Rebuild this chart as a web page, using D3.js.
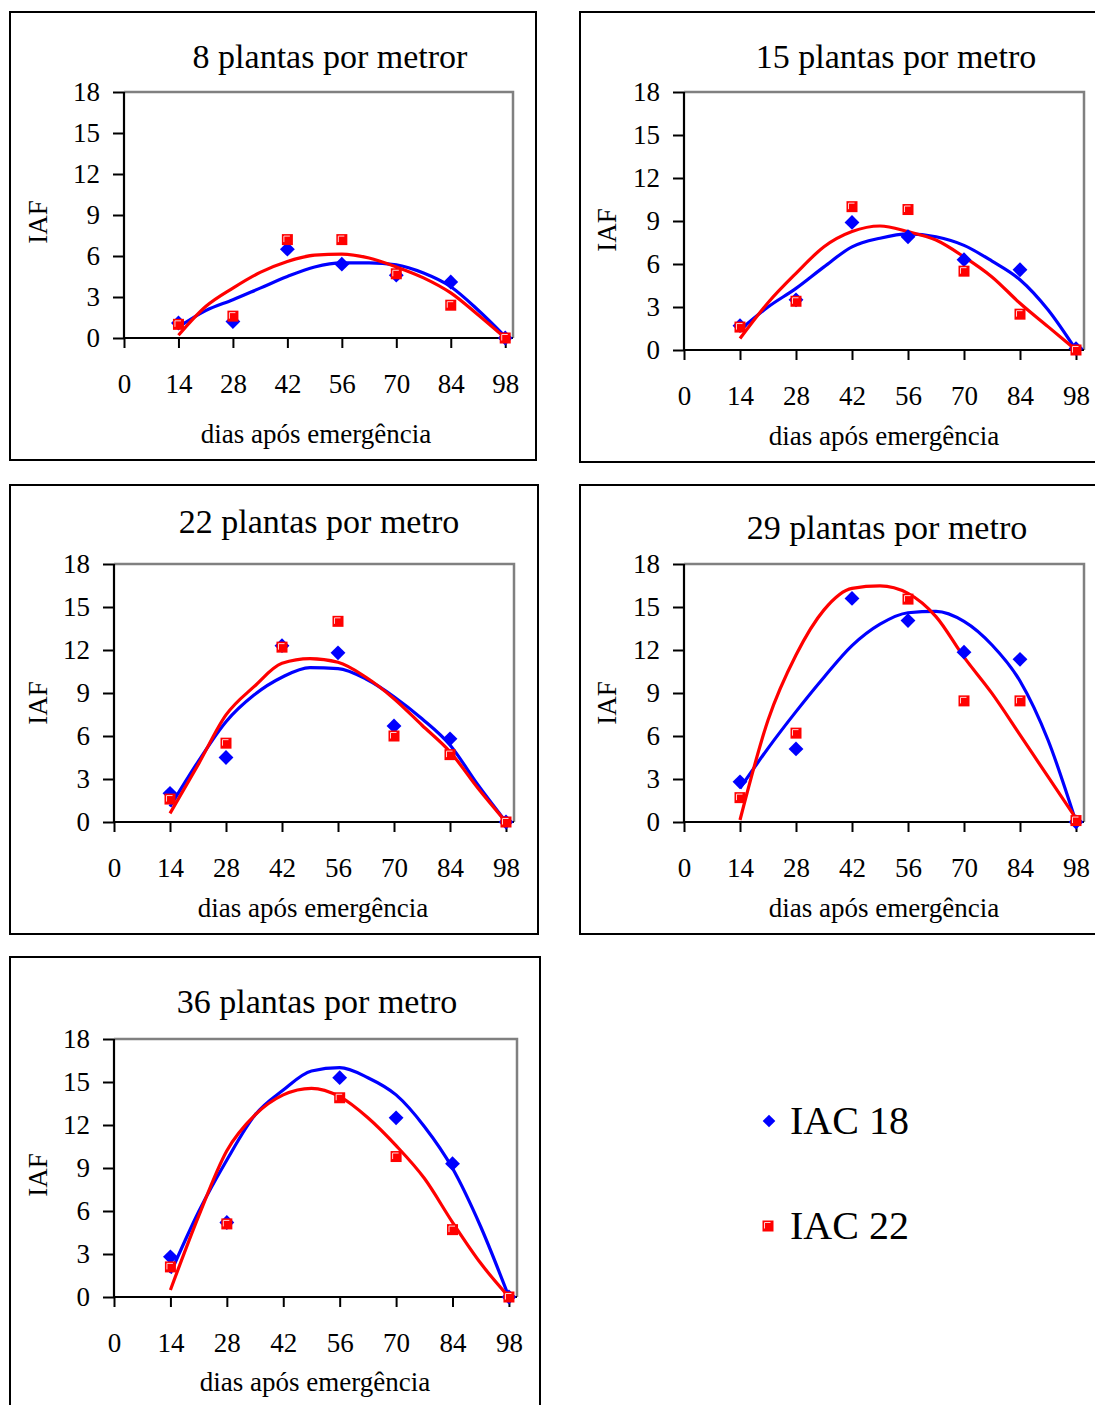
<!DOCTYPE html>
<html>
<head>
<meta charset="utf-8">
<script src="https://cdn.jsdelivr.net/npm/d3@7"></script>
<style>
  body { margin: 0; background: #fff; }
  svg { display: block; }
  text { font-family: "Liberation Serif", "Times New Roman", serif; fill: #000; }
</style>
</head>
<body>
<div id="chart"></div>
<script>
// days of sampling and the days at which the fitted curves were read
var days = [14, 28, 42, 56, 70, 84, 98];
var fitDays = [14, 21, 28, 35, 42, 49, 56, 63, 70, 77, 84, 91, 98];
var xTicks = [0, 14, 28, 42, 56, 70, 84, 98];
var yTicks = [0, 3, 6, 9, 12, 15, 18];
var seriesNames = ["IAC 18", "IAC 22"];
var titles = ["8 plantas por metror", "15 plantas por metro", "22 plantas por metro",
              "29 plantas por metro", "36 plantas por metro"];

// IAF observed (IAC 18 / IAC 22)
var iac18_8 = [1.1, 1.2, 6.5, 5.4, 4.6, 4.1, 0];
var iac22_8 = [1.0, 1.6, 7.2, 7.2, 4.7, 2.4, 0];
var iac18_15 = [1.7, 3.5, 8.9, 7.9, 6.3, 5.6, 0.1];
var iac22_15 = [1.6, 3.4, 10.0, 9.8, 5.5, 2.5, 0];
var iac18_22 = [2.0, 4.5, 12.3, 11.8, 6.7, 5.8, 0];
var iac22_22 = [1.6, 5.5, 12.2, 14.0, 6.0, 4.7, 0];
var iac18_29 = [2.8, 5.1, 15.6, 14.05, 11.85, 11.35, 0];
var iac22_29 = [1.7, 6.2, null, 15.55, 8.45, 8.45, 0.1];
var iac18_36 = [2.8, 5.2, null, 15.3, 12.5, 9.3, 0];
var iac22_36 = [2.1, 5.1, null, 13.9, 9.8, 4.7, 0];

// fitted curves
var fit18_8 = [0.8, 2.0, 2.8, 3.65, 4.5, 5.2, 5.5, 5.5, 5.35, 4.75, 3.75, 2.05, 0.1];
var fit22_8 = [0.2, 2.3, 3.65, 4.8, 5.6, 6.07, 6.14, 5.85, 5.2, 4.4, 3.3, 1.7, 0];
var fit18_15 = [1.4, 3.0, 4.3, 5.8, 7.2, 7.8, 8.1, 7.9, 7.3, 6.2, 4.9, 2.8, 0];
var fit22_15 = [0.8, 3.3, 5.35, 7.2, 8.26, 8.65, 8.26, 7.67, 6.5, 5.1, 3.26, 1.63, 0];
var fit18_22 = [1.07, 4.2, 7.0, 8.86, 10.1, 10.77, 10.7, 9.98, 8.74, 7.2, 5.37, 2.58, 0];
var fit22_22 = [0.6, 3.98, 7.47, 9.44, 11.07, 11.4, 11.14, 10.1, 8.6, 6.75, 4.9, 2.35, 0];
var fit18_29 = [2.35, 5.14, 7.7, 10.1, 12.3, 13.8, 14.6, 14.7, 14.0, 12.35, 9.84, 5.72, 0];
var fit22_29 = [0.14, 7.1, 11.65, 14.8, 16.3, 16.47, 15.95, 14.33, 11.5, 8.97, 6.08, 3.16, 0.26];
var fit18_36 = [1.65, 5.95, 9.56, 12.7, 14.44, 15.77, 16.0, 15.3, 14.1, 11.9, 8.98, 4.9, 0];
var fit22_36 = [0.49, 5.64, 10.2, 12.7, 14.1, 14.56, 13.98, 12.51, 10.56, 8.28, 5.21, 2.35, 0];

var obs18 = [iac18_8, iac18_15, iac18_22, iac18_29, iac18_36];
var obs22 = [iac22_8, iac22_15, iac22_22, iac22_29, iac22_36];
var fit18 = [fit18_8, fit18_15, fit18_22, fit18_29, fit18_36];
var fit22 = [fit22_8, fit22_15, fit22_22, fit22_29, fit22_36];

var blue = "#0000ff", red = "#ff0000";

// panel layout: frame box, plot ranges, text anchors
var layout = [
  {frame: [10, 12, 536, 460], x: [124, 513], y: [338, 92], title: [330, 68], iaf: [38, 222], xlab: [316, 443]},
  {frame: [580, 12, 1120, 462], x: [684, 1084], y: [350, 92], title: [896, 68], iaf: [607, 230], xlab: [884, 445]},
  {frame: [10, 485, 538, 934], x: [114, 514], y: [822, 564], title: [319, 533], iaf: [38, 703], xlab: [313, 917]},
  {frame: [580, 485, 1120, 934], x: [684, 1084], y: [822, 564], title: [887, 539], iaf: [607, 703], xlab: [884, 917]},
  {frame: [10, 957, 540, 1420], x: [114, 517], y: [1297, 1039], title: [317, 1013], iaf: [38, 1175], xlab: [315, 1391]}
];

var svg = d3.select("#chart").append("svg")
  .attr("width", 1095)
  .attr("height", 1405);

function drawDiamond(g, cx, cy, s) {
  g.append("path")
    .attr("d", d3.symbol().type(d3.symbolSquare).size(s)())
    .attr("transform", `translate(${cx},${cy}) rotate(45)`)
    .attr("fill", blue);
}

function drawSquare(g, cx, cy, side) {
  var h = side / 2;
  g.append("rect")
    .attr("x", cx - h).attr("y", cy - h)
    .attr("width", side).attr("height", side)
    .attr("fill", red);
  // little light highlight like the original markers
  g.append("path")
    .attr("d", `M${cx - h + 2},${cy + h - 3} L${cx - h + 2},${cy - h + 2} L${cx + h - 3},${cy - h + 2}`)
    .attr("fill", "none")
    .attr("stroke", "#ffd0d0")
    .attr("stroke-width", 1);
}

layout.forEach(function(L, i) {
  var g = svg.append("g");

  // frame
  g.append("rect")
    .attr("x", L.frame[0]).attr("y", L.frame[1])
    .attr("width", L.frame[2] - L.frame[0]).attr("height", L.frame[3] - L.frame[1])
    .attr("fill", "none").attr("stroke", "#000").attr("stroke-width", 2);

  var xScale = d3.scaleLinear().domain([0, 100]).range(L.x);
  var yScale = d3.scaleLinear().domain([0, 18]).range(L.y);

  // grey top and right edges of plot area
  g.append("path")
    .attr("d", `M${L.x[0]},${L.y[1]} H${L.x[1]} V${L.y[0]}`)
    .attr("fill", "none").attr("stroke", "#808080").attr("stroke-width", 2.5);

  // axes
  var leftAxis = d3.axisLeft(yScale).tickValues(yTicks).tickSize(11).tickSizeOuter(0).tickPadding(13);
  var bottomAxis = d3.axisBottom(xScale).tickValues(xTicks).tickSize(10).tickSizeOuter(0);

  var ya = g.append("g").attr("transform", `translate(${L.x[0]},0)`).call(leftAxis);
  ya.select(".domain").attr("d", `M0,${L.y[0]}V${L.y[1]}`);
  var xa = g.append("g").attr("transform", `translate(0,${L.y[0]})`).call(bottomAxis);
  xa.select(".domain").attr("d", `M${L.x[0]},0H${L.x[1]}`);
  xa.selectAll("text").attr("y", 55).attr("dy", null);

  [ya, xa].forEach(function(a) {
    a.select(".domain").attr("stroke", "#000").attr("stroke-width", 2.2);
    a.selectAll(".tick line").attr("stroke", "#000").attr("stroke-width", 2);
    a.selectAll("text")
      .attr("font-family", '"Liberation Serif", serif')
      .attr("font-size", 27)
      .attr("fill", "#000");
  });

  // curves
  var line = d3.line()
    .x((d, k) => xScale(fitDays[k]))
    .y(d => yScale(d))
    .curve(d3.curveMonotoneX);

  g.append("path").datum(fit18[i]).attr("d", line)
    .attr("fill", "none").attr("stroke", blue).attr("stroke-width", 3.2);
  g.append("path").datum(fit22[i]).attr("d", line)
    .attr("fill", "none").attr("stroke", red).attr("stroke-width", 3.2);

  // observed points (red drawn on top)
  obs18[i].forEach(function(v, k) {
    if (v !== null) drawDiamond(g, xScale(days[k]), yScale(v), 110);
  });
  obs22[i].forEach(function(v, k) {
    if (v !== null) drawSquare(g, xScale(days[k]), yScale(v), 11);
  });

  // texts
  g.append("text")
    .attr("x", L.title[0]).attr("y", L.title[1])
    .attr("text-anchor", "middle")
    .attr("font-size", 34)
    .text(titles[i]);

  g.append("text")
    .attr("transform", `translate(${L.iaf[0]},${L.iaf[1]}) rotate(-90)`)
    .attr("text-anchor", "middle")
    .attr("dy", "0.35em")
    .attr("font-size", 27)
    .text("IAF");

  g.append("text")
    .attr("x", L.xlab[0]).attr("y", L.xlab[1])
    .attr("text-anchor", "middle")
    .attr("font-size", 27)
    .text("dias após emergência");
});

// legend
var leg = svg.append("g");
drawDiamond(leg, 769, 1121, 80);
leg.append("text").attr("x", 790).attr("y", 1134).attr("font-size", 40).text(seriesNames[0]);
drawSquare(leg, 768, 1226, 11);
leg.append("text").attr("x", 790).attr("y", 1239).attr("font-size", 40).text(seriesNames[1]);
</script>
</body>
</html>
